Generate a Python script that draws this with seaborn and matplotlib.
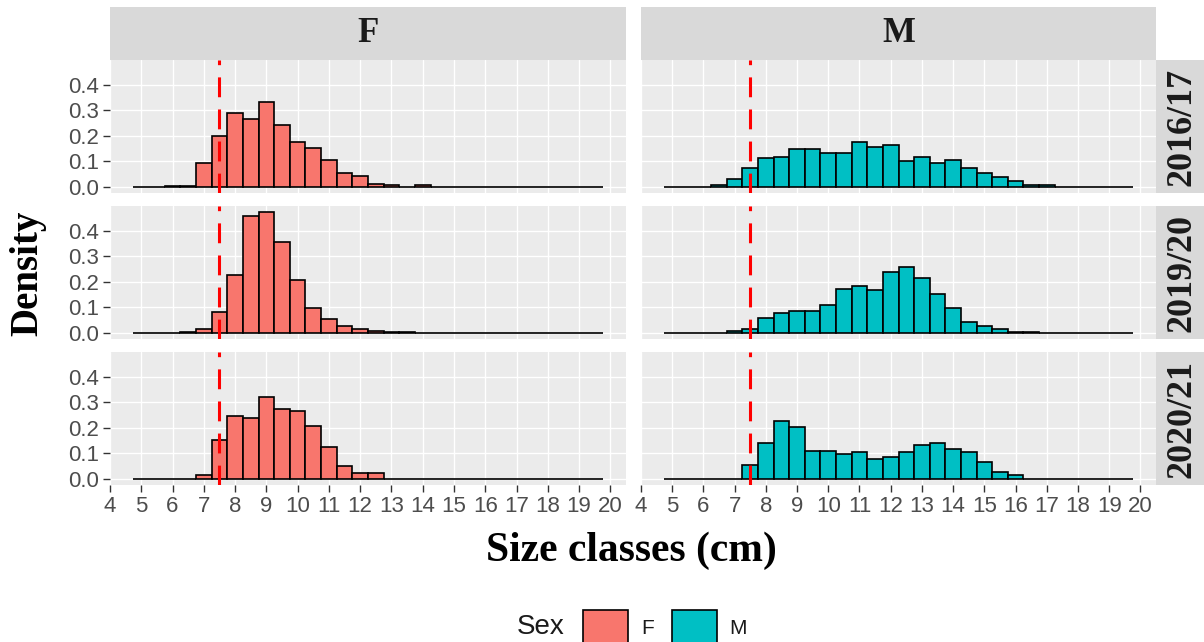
import numpy as np
import pandas as pd
import seaborn as sns
import matplotlib
matplotlib.use("Agg")
import matplotlib.pyplot as plt
from matplotlib.patches import Rectangle, Patch

# Size-class midpoints (cm), 0.5 cm wide classes
size_classes = [5.0, 5.5, 6.0, 6.5, 7.0, 7.5, 8.0, 8.5, 9.0, 9.5,
                10.0, 10.5, 11.0, 11.5, 12.0, 12.5, 13.0, 13.5, 14.0, 14.5,
                15.0, 15.5, 16.0, 16.5, 17.0, 17.5, 18.0, 18.5, 19.0, 19.5]
class_width = 0.5

years = ["2016/17", "2019/20", "2020/21"]
sexes = ["F", "M"]

# Density per size class
f_2016 = [0, 0, 0.005, 0.005, 0.095, 0.199, 0.290, 0.267, 0.334, 0.243,
          0.178, 0.154, 0.104, 0.055, 0.044, 0.013, 0.006, 0, 0.006, 0,
          0, 0, 0, 0, 0, 0, 0, 0, 0, 0]
m_2016 = [0, 0, 0, 0.006, 0.030, 0.074, 0.112, 0.119, 0.149, 0.149,
          0.132, 0.132, 0.178, 0.156, 0.164, 0.103, 0.119, 0.095, 0.107, 0.074,
          0.053, 0.038, 0.022, 0.006, 0.006, 0, 0, 0, 0, 0]
f_2019 = [0, 0, 0, 0.005, 0.016, 0.082, 0.228, 0.457, 0.474, 0.355,
          0.209, 0.096, 0.053, 0.029, 0.016, 0.007, 0.004, 0.004, 0, 0,
          0, 0, 0, 0, 0, 0, 0, 0, 0, 0]
m_2019 = [0, 0, 0, 0, 0.006, 0.016, 0.060, 0.080, 0.088, 0.086,
          0.110, 0.171, 0.184, 0.170, 0.238, 0.259, 0.214, 0.154, 0.097, 0.042,
          0.029, 0.014, 0.005, 0.005, 0, 0, 0, 0, 0, 0]
f_2020 = [0, 0, 0, 0, 0.017, 0.154, 0.246, 0.238, 0.320, 0.275,
          0.267, 0.209, 0.127, 0.051, 0.022, 0.022, 0, 0, 0, 0,
          0, 0, 0, 0, 0, 0, 0, 0, 0, 0]
m_2020 = [0, 0, 0, 0, 0, 0.053, 0.141, 0.228, 0.202, 0.110,
          0.110, 0.096, 0.104, 0.079, 0.088, 0.104, 0.135, 0.141, 0.117, 0.104,
          0.067, 0.029, 0.016, 0, 0, 0, 0, 0, 0, 0]

minimum_size = 7.5
x_ticks = list(range(4, 21))
y_ticks = [0.0, 0.1, 0.2, 0.3, 0.4]
sex_colors = {"F": "#F8766D", "M": "#00BFC4"}

series = {("2016/17", "F"): f_2016, ("2016/17", "M"): m_2016,
          ("2019/20", "F"): f_2019, ("2019/20", "M"): m_2019,
          ("2020/21", "F"): f_2020, ("2020/21", "M"): m_2020}

frames = []
for (yr, sx), vals in series.items():
    frames.append(pd.DataFrame({"Year": yr, "Sex": sx,
                                "size": size_classes, "density": vals}))
df = pd.concat(frames, ignore_index=True)

bin_range = (size_classes[0] - class_width / 2, size_classes[-1] + class_width / 2)

sns.set_theme(style="darkgrid", rc={
    "axes.facecolor": "#EBEBEB",
    "grid.color": "white",
    "grid.linewidth": 1.0,
    "axes.edgecolor": "none",
})
plt.rcParams["font.family"] = ["Liberation Sans", "DejaVu Sans"]

g = sns.FacetGrid(df, row="Year", col="Sex", row_order=years, col_order=sexes,
                  sharex=True, sharey=True, height=2, aspect=2)


def draw_hist(data, **kwargs):
    ax = plt.gca()
    sx = data["Sex"].iloc[0]
    sns.histplot(data=data, x="size", weights="density", binwidth=class_width,
                 binrange=bin_range, stat="count", color=sex_colors[sx],
                 alpha=1, edgecolor="black", linewidth=1.2, ax=ax)
    ax.axvline(minimum_size, color="red", linewidth=2.2,
               linestyle=(0, (6.5, 4)), zorder=5)


g.map_dataframe(draw_hist)

fig = g.figure
fig.set_size_inches(12.04, 6.42)
fig.set_dpi(100)
W, H = 1204, 642

col_x = [(110, 626), (641, 1156)]
row_y = [(60, 193), (206, 339), (352, 485)]

tick_col = "#4D4D4D"
for i, yr in enumerate(years):
    for j, sx in enumerate(sexes):
        ax = g.axes[i, j]
        x0, x1 = col_x[j]
        y0, y1 = row_y[i]
        ax.set_position([x0 / W, 1 - y1 / H, (x1 - x0) / W, (y1 - y0) / H])
        ax.set_title("")
        ax.set_xlabel("")
        ax.set_ylabel("")
        ax.set_xlim(4, 20.5)
        ax.set_ylim(-0.0237, 0.498)
        ax.set_xticks(x_ticks)
        ax.set_yticks(y_ticks)
        ax.set_xticklabels([str(t) for t in x_ticks])
        ax.set_yticklabels([f"{t:.1f}" for t in y_ticks])
        ax.grid(True, which="major", color="white", linewidth=1.0)
        ax.set_axisbelow(True)
        for s in ax.spines.values():
            s.set_visible(False)
        ax.tick_params(axis="both", which="major", length=5, width=1.0,
                       color="#333333", labelcolor=tick_col, labelsize=16, pad=3)
        ax.tick_params(axis="y", left=(j == 0), labelleft=(j == 0))
        ax.tick_params(axis="x", bottom=(i == len(years) - 1),
                       labelbottom=(i == len(years) - 1))

# Facet strips
strip_col = "#D9D9D9"
serif = ["Liberation Serif", "DejaVu Serif"]
for j, sx in enumerate(sexes):
    x0, x1 = col_x[j]
    fig.add_artist(Rectangle((x0 / W, 1 - 60 / H), (x1 - x0) / W, 53 / H,
                             transform=fig.transFigure, facecolor=strip_col,
                             edgecolor="none"))
    fig.text((x0 + x1) / 2 / W, 1 - 34 / H, sx, ha="center", va="center",
             fontsize=25, fontweight="bold", family=serif, color="#1A1A1A")
for i, yr in enumerate(years):
    y0, y1 = row_y[i]
    fig.add_artist(Rectangle((1156 / W, 1 - y1 / H), 50 / W, (y1 - y0) / H,
                             transform=fig.transFigure, facecolor=strip_col,
                             edgecolor="none"))
    fig.text(1182 / W, 1 - (y0 + y1) / 2 / H, yr, ha="center", va="center",
             rotation=90, fontsize=26, fontweight="bold", family=serif,
             color="#1A1A1A")

# Axis titles
fig.text(28 / W, 1 - 273 / H, "Density", rotation=90, ha="center", va="center",
         fontsize=28, fontweight="bold", family=serif, color="black")
fig.text(631 / W, 1 - 551 / H, "Size classes (cm)", ha="center", va="center",
         fontsize=30, fontweight="bold", family=serif, color="black")

# Legend
fig.text(541 / W, 1 - 627 / H, "Sex", ha="center", va="center", fontsize=20,
         color="#1A1A1A")
handles = [Patch(facecolor=sex_colors[s], edgecolor="black", linewidth=1.2)
           for s in sexes]
fig.legend(handles, sexes, loc="center", bbox_to_anchor=(665 / W, 1 - 627 / H),
           ncol=2, frameon=False, fontsize=15, handlelength=2.16,
           handleheight=2.16, handletextpad=0.6, columnspacing=0.87,
           borderpad=0.0, labelcolor="#1A1A1A")

fig.savefig("out.png", dpi=100, facecolor="white")
